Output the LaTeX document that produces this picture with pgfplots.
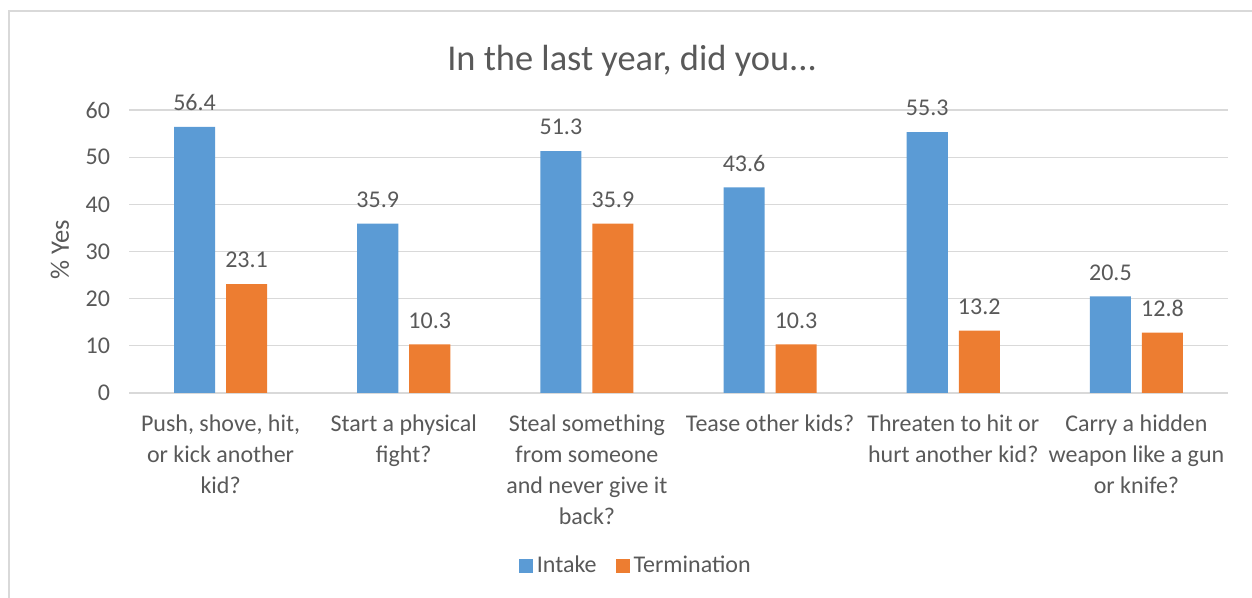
\documentclass[border=0pt]{standalone}
\usepackage{fontspec}
\setmainfont{Carlito}
\usepackage{pgfplots}
\pgfplotsset{compat=1.18}
\definecolor{cBlue}{HTML}{5B9BD5}
\definecolor{cOrange}{HTML}{ED7D31}
\definecolor{cGrid}{HTML}{D9D9D9}
\definecolor{cText}{HTML}{595959}
\begin{document}
\begin{tikzpicture}[x=0.5pt,y=0.5pt]
\path[use as bounding box] (0,0) rectangle (1252,598);
\draw[cGrid, line width=0.8pt] (9,0) -- (9,587) -- (1252,587);
\node[text=cText, font=\fontsize{18.2}{21}\selectfont] at (632,537) {In the last year, did you...};
\begin{axis}[
  at={(64.5pt,102.5pt)}, anchor=south west,
  scale only axis, width=549.5pt, height=141.5pt,
  xmin=-0.5, xmax=5.5, ymin=0, ymax=60,
  ybar, bar width=0.224,
  ytick={0,10,...,60},
  xtick={0,...,5},
  xticklabels={{Push, shove, hit,\\or kick another\\kid?},
               {Start a physical\\fight?},
               {Steal something\\from someone\\and never give it\\back?},
               {Tease other kids?},
               {Threaten to hit or\\hurt another kid?},
               {Carry a hidden\\weapon like a gun\\or knife?}},
  xticklabel style={align=center, font=\fontsize{12}{15.5}\selectfont, text=cText, yshift=-7.5pt},
  yticklabel style={font=\fontsize{12}{14}\selectfont, text=cText, xshift=-6pt},
  major tick length=0pt,
  axis line style={draw=none},
  ymajorgrids, grid style={cGrid, line width=0.6pt},
  /pgf/number format/assume math mode=true,
  ylabel={\% Yes},
  every axis y label/.style={at={(axis description cs:-0.0628,0.505)}, rotate=90, anchor=center, font=\fontsize{13.3}{15}\selectfont, text=cText},
  nodes near coords,
  nodes near coords style={font=\fontsize{12}{14}\selectfont, text=cText, /pgf/number format/fixed, /pgf/number format/fixed zerofill, /pgf/number format/precision=1, yshift=4.5pt},
  legend style={at={(0.462,-0.611)}, anchor=center, draw=none, legend columns=2,
    font=\fontsize{12}{14}\selectfont, text=cText,
    /tikz/every even column/.append style={column sep=7.5pt}},
  legend image code/.code={\fill[#1] (0pt,-3.5pt) rectangle (7pt,3.5pt);},
]
\addplot[bar shift=-0.142, fill=cBlue, draw=none] coordinates {
  (0,56.4) (1,35.9) (2,51.3) (3,43.6) (4,55.3) (5,20.5)};
\addlegendentry{Intake}
\addplot[bar shift=0.142, fill=cOrange, draw=none] coordinates {
  (0,23.1) (1,10.3) (2,35.9) (3,10.3) (4,13.2) (5,12.8)};
\addlegendentry{Termination}
\end{axis}
\end{tikzpicture}
\end{document}
